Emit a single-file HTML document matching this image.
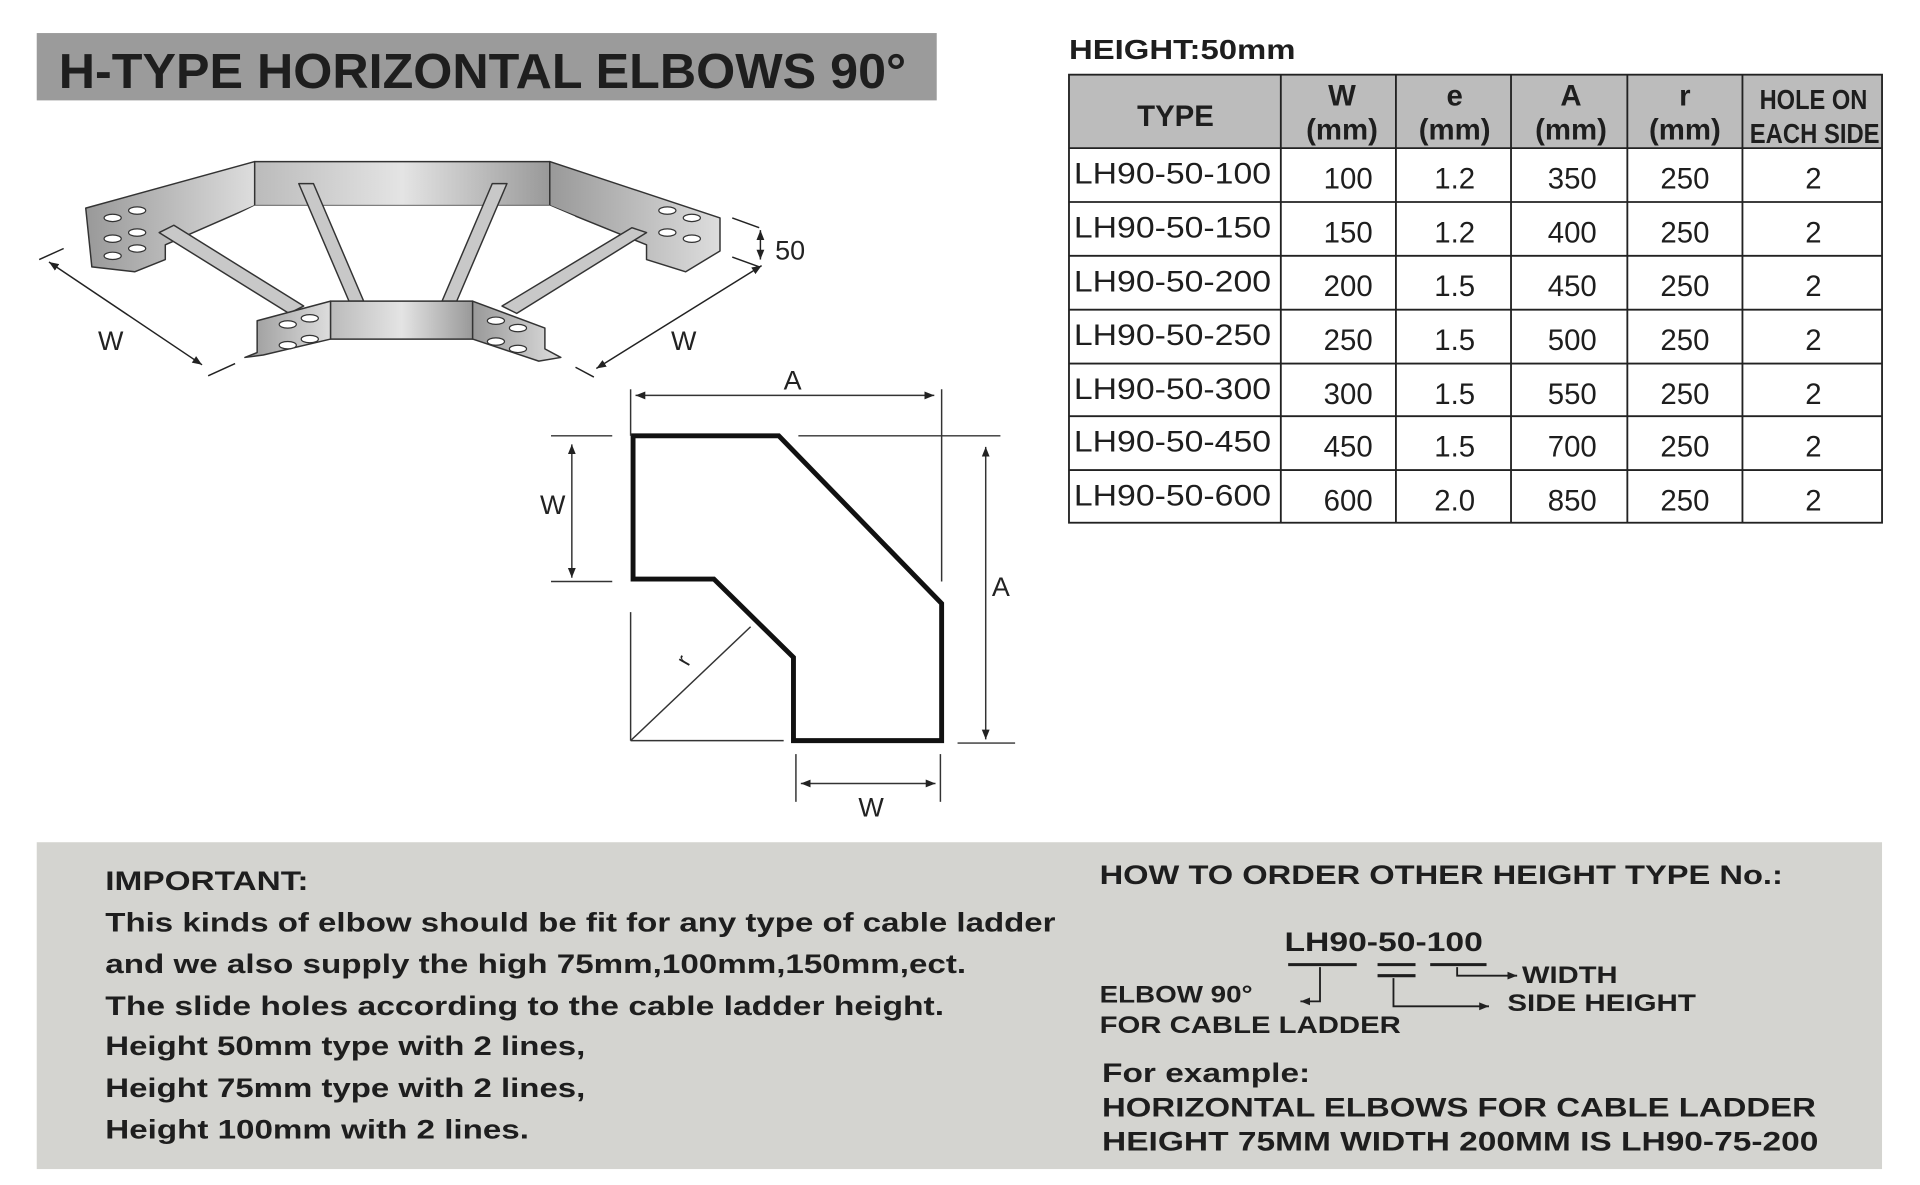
<!DOCTYPE html>
<html><head><meta charset="utf-8"><style>
html,body{margin:0;padding:0;background:#fff;}
svg{display:block;}
text{font-family:"Liberation Sans",sans-serif;}
</style></head><body>
<svg width="1920" height="1185" viewBox="0 0 1568 968" preserveAspectRatio="none" xmlns="http://www.w3.org/2000/svg">
<defs>
<marker id="ar" viewBox="0 0 10 10" refX="10" refY="5" markerWidth="8" markerHeight="8" orient="auto-start-reverse" markerUnits="userSpaceOnUse"><path d="M0,1 L10,5 L0,9 z" fill="#222"/></marker>
<linearGradient id="g1" x1="0" x2="1" y1="0" y2="0"><stop offset="0" stop-color="#bbb"/><stop offset="0.5" stop-color="#e4e4e4"/><stop offset="1" stop-color="#999"/></linearGradient>
<linearGradient id="g2" x1="0" x2="1" y1="0" y2="0"><stop offset="0" stop-color="#999"/><stop offset="1" stop-color="#ddd"/></linearGradient>
</defs>
<rect x="0" y="0" width="1568" height="968" fill="#fff"/>
<!-- title -->
<rect x="30" y="27" width="735" height="55" fill="#9b9b9b"/>
<text x="48" y="72" font-size="40" font-weight="bold" fill="#1e1e1e" textLength="692" lengthAdjust="spacingAndGlyphs">H-TYPE HORIZONTAL ELBOWS 90°</text>

<!-- 3D elbow -->
<g stroke="#333" stroke-width="1.2" stroke-linejoin="round">
<polygon points="70,170 208,132 208,168 135,200 135,212 110,222 75,218" fill="url(#g2)"/>
<polygon points="208,132 449,132 449,168 208,168" fill="url(#g1)"/>
<polygon points="449,132 588,178 588,205 560,222 528,212 528,200 449,168" fill="url(#g2)"/>
<polygon points="208,168 449,168 470,177 410,205 248,205 190,177" fill="#fff" stroke="none"/>
<g fill="#c8c8c8">
<polygon points="130,190 142,184 248,250 236,256"/>
<polygon points="244,150 256,150 297,246 285,246"/>
<polygon points="402,150 414,150 373,246 361,246"/>
<polygon points="516,186 528,190 422,256 410,250"/>
</g>
<polygon points="210,262 270,246 270,277 215,290 200,292 210,288" fill="url(#g2)"/>
<polygon points="270,246 386,246 386,277 270,277" fill="url(#g1)"/>
<polygon points="386,246 445,268 445,285 458,292 440,295 386,277" fill="url(#g2)"/>
</g>
<g fill="#fff" stroke="#333" stroke-width="1">
<ellipse cx="92" cy="178" rx="7" ry="3"/><ellipse cx="112" cy="172" rx="7" ry="3"/>
<ellipse cx="92" cy="195" rx="7" ry="3"/><ellipse cx="112" cy="190" rx="7" ry="3"/>
<ellipse cx="92" cy="209" rx="7" ry="3"/><ellipse cx="112" cy="203" rx="7" ry="3"/>
<ellipse cx="545" cy="172" rx="7" ry="3"/><ellipse cx="565" cy="178" rx="7" ry="3"/>
<ellipse cx="545" cy="190" rx="7" ry="3"/><ellipse cx="565" cy="195" rx="7" ry="3"/>
<ellipse cx="235" cy="265" rx="7" ry="3"/><ellipse cx="253" cy="260" rx="7" ry="3"/>
<ellipse cx="235" cy="282" rx="7" ry="3"/><ellipse cx="253" cy="277" rx="7" ry="3"/>
<ellipse cx="405" cy="262" rx="7" ry="3"/><ellipse cx="423" cy="268" rx="7" ry="3"/>
<ellipse cx="405" cy="279" rx="7" ry="3"/><ellipse cx="423" cy="285" rx="7" ry="3"/>
</g>
<g stroke="#222" stroke-width="1.2" fill="none">
<line x1="32" y1="212" x2="52" y2="203"/><line x1="170" y1="307" x2="192" y2="297"/>
<line x1="40" y1="214" x2="165" y2="298" marker-start="url(#ar)" marker-end="url(#ar)"/>
<line x1="470" y1="300" x2="485" y2="308" />
<line x1="487" y1="301" x2="622" y2="217" marker-start="url(#ar)" marker-end="url(#ar)"/>
<line x1="598" y1="210" x2="620" y2="218"/><line x1="598" y1="178" x2="620" y2="186"/>
<line x1="621" y1="188" x2="621" y2="212" marker-start="url(#ar)" marker-end="url(#ar)"/>
</g>
<text x="80" y="286" font-size="22" fill="#222">W</text>
<text x="548" y="286" font-size="22" fill="#222">W</text>
<text x="633" y="212" font-size="22" fill="#222">50</text>

<!-- plan drawing -->
<polygon points="517,356 636,356 769,493 769,605 648,605 648,537 583,473 517,473" fill="none" stroke="#111" stroke-width="4" stroke-linejoin="miter"/>
<g stroke="#333" stroke-width="1.2" fill="none">
<line x1="515" y1="318" x2="515" y2="356"/><line x1="769" y1="318" x2="769" y2="475"/>
<line x1="519" y1="323" x2="763" y2="323" marker-start="url(#ar)" marker-end="url(#ar)"/>
<line x1="652" y1="356" x2="817" y2="356"/><line x1="782" y1="607" x2="829" y2="607"/>
<line x1="805" y1="365" x2="805" y2="604" marker-start="url(#ar)" marker-end="url(#ar)"/>
<line x1="450" y1="356" x2="500" y2="356"/><line x1="450" y1="475" x2="500" y2="475"/>
<line x1="467" y1="363" x2="467" y2="472" marker-start="url(#ar)" marker-end="url(#ar)"/>
<line x1="650" y1="616" x2="650" y2="655"/><line x1="768" y1="616" x2="768" y2="655"/>
<line x1="654" y1="640" x2="764" y2="640" marker-start="url(#ar)" marker-end="url(#ar)"/>
<line x1="515" y1="500" x2="515" y2="605"/><line x1="515" y1="605" x2="640" y2="605"/>
<line x1="515" y1="605" x2="613" y2="512"/>
</g>
<text x="640" y="318" font-size="22" fill="#222">A</text>
<text x="810" y="487" font-size="22" fill="#222">A</text>
<text x="441" y="420" font-size="22" fill="#222">W</text>
<text x="701" y="667" font-size="22" fill="#222">W</text>
<text x="562" y="545" font-size="18" fill="#222" transform="rotate(-60 562 545)">r</text>

<!-- table -->
<text x="873" y="48" font-size="23" font-weight="bold" fill="#1e1e1e" textLength="185" lengthAdjust="spacingAndGlyphs">HEIGHT:50mm</text>
<rect x="873" y="61" width="664" height="60" fill="#bcbcbc"/>
<g stroke="#222" stroke-width="1.5" fill="none">
<rect x="873" y="61" width="664" height="366"/>
<line x1="873" y1="121" x2="1537" y2="121"/><line x1="873" y1="165" x2="1537" y2="165"/>
<line x1="873" y1="209" x2="1537" y2="209"/><line x1="873" y1="253" x2="1537" y2="253"/>
<line x1="873" y1="297" x2="1537" y2="297"/><line x1="873" y1="340" x2="1537" y2="340"/>
<line x1="873" y1="384" x2="1537" y2="384"/>
<line x1="1046" y1="61" x2="1046" y2="427"/><line x1="1140" y1="61" x2="1140" y2="427"/>
<line x1="1234" y1="61" x2="1234" y2="427"/><line x1="1329" y1="61" x2="1329" y2="427"/>
<line x1="1423" y1="61" x2="1423" y2="427"/>
</g>
<g font-size="24" font-weight="bold" fill="#1e1e1e" text-anchor="middle">
<text x="960" y="103">TYPE</text>
<text x="1096" y="86">W</text><text x="1096" y="114">(mm)</text>
<text x="1188" y="86">e</text><text x="1188" y="114">(mm)</text>
<text x="1283" y="86">A</text><text x="1283" y="114">(mm)</text>
<text x="1376" y="86">r</text><text x="1376" y="114">(mm)</text>
<text x="1481" y="89" font-size="23" textLength="88" lengthAdjust="spacingAndGlyphs">HOLE ON</text>
<text x="1482" y="117" font-size="23" textLength="106" lengthAdjust="spacingAndGlyphs">EACH SIDE</text>
</g>
<g font-size="24" fill="#1e1e1e">
<g text-anchor="start">
<text x="877" y="150" textLength="161" lengthAdjust="spacingAndGlyphs">LH90-50-100</text><text x="877" y="194" textLength="161" lengthAdjust="spacingAndGlyphs">LH90-50-150</text>
<text x="877" y="238" textLength="161" lengthAdjust="spacingAndGlyphs">LH90-50-200</text><text x="877" y="282" textLength="161" lengthAdjust="spacingAndGlyphs">LH90-50-250</text>
<text x="877" y="326" textLength="161" lengthAdjust="spacingAndGlyphs">LH90-50-300</text><text x="877" y="369" textLength="161" lengthAdjust="spacingAndGlyphs">LH90-50-450</text>
<text x="877" y="413" textLength="161" lengthAdjust="spacingAndGlyphs">LH90-50-600</text>
</g>
<g text-anchor="middle">
<text x="1101" y="154">100</text><text x="1188" y="154">1.2</text><text x="1284" y="154">350</text><text x="1376" y="154">250</text><text x="1481" y="154">2</text>
<text x="1101" y="198">150</text><text x="1188" y="198">1.2</text><text x="1284" y="198">400</text><text x="1376" y="198">250</text><text x="1481" y="198">2</text>
<text x="1101" y="242">200</text><text x="1188" y="242">1.5</text><text x="1284" y="242">450</text><text x="1376" y="242">250</text><text x="1481" y="242">2</text>
<text x="1101" y="286">250</text><text x="1188" y="286">1.5</text><text x="1284" y="286">500</text><text x="1376" y="286">250</text><text x="1481" y="286">2</text>
<text x="1101" y="330">300</text><text x="1188" y="330">1.5</text><text x="1284" y="330">550</text><text x="1376" y="330">250</text><text x="1481" y="330">2</text>
<text x="1101" y="373">450</text><text x="1188" y="373">1.5</text><text x="1284" y="373">700</text><text x="1376" y="373">250</text><text x="1481" y="373">2</text>
<text x="1101" y="417">600</text><text x="1188" y="417">2.0</text><text x="1284" y="417">850</text><text x="1376" y="417">250</text><text x="1481" y="417">2</text>
</g>
</g>

<!-- bottom panel -->
<rect x="30" y="688" width="1507" height="267" fill="#d4d4d0"/>
<g font-size="22" font-weight="bold" fill="#1e1e1e">
<text x="86" y="727" textLength="166" lengthAdjust="spacingAndGlyphs">IMPORTANT:</text>
<text x="86" y="761" textLength="776" lengthAdjust="spacingAndGlyphs">This kinds of elbow should be fit for any type of cable ladder</text>
<text x="86" y="795" textLength="703" lengthAdjust="spacingAndGlyphs">and we also supply the high 75mm,100mm,150mm,ect.</text>
<text x="86" y="829" textLength="685" lengthAdjust="spacingAndGlyphs">The slide  holes according to the cable ladder height.</text>
<text x="86" y="862" textLength="392" lengthAdjust="spacingAndGlyphs">Height 50mm type with 2 lines,</text>
<text x="86" y="896" textLength="392" lengthAdjust="spacingAndGlyphs">Height 75mm type with 2 lines,</text>
<text x="86" y="930" textLength="346" lengthAdjust="spacingAndGlyphs">Height 100mm with 2 lines.</text>
<text x="898" y="722" textLength="558" lengthAdjust="spacingAndGlyphs">HOW TO ORDER OTHER HEIGHT TYPE No.:</text>
<text x="1049" y="777" textLength="162" lengthAdjust="spacingAndGlyphs">LH90-50-100</text>
<text x="1243" y="803" font-size="20" textLength="78" lengthAdjust="spacingAndGlyphs">WIDTH</text>
<text x="898" y="819" font-size="20" textLength="125" lengthAdjust="spacingAndGlyphs">ELBOW 90°</text>
<text x="1231" y="826" font-size="20" textLength="154" lengthAdjust="spacingAndGlyphs">SIDE HEIGHT</text>
<text x="898" y="844" font-size="20" textLength="246" lengthAdjust="spacingAndGlyphs">FOR CABLE LADDER</text>
<text x="900" y="884" textLength="170" lengthAdjust="spacingAndGlyphs">For example:</text>
<text x="900" y="912" textLength="583" lengthAdjust="spacingAndGlyphs">HORIZONTAL ELBOWS FOR CABLE LADDER</text>
<text x="900" y="940" textLength="585" lengthAdjust="spacingAndGlyphs">HEIGHT 75MM WIDTH 200MM IS  LH90-75-200</text>
</g>
<g stroke="#1e1e1e" stroke-width="2.5" fill="none">
<line x1="1052" y1="788" x2="1108" y2="788"/>
<line x1="1125" y1="788" x2="1156" y2="788"/><line x1="1125" y1="797" x2="1156" y2="797"/>
<line x1="1168" y1="788" x2="1214" y2="788"/>
</g>
<g stroke="#1e1e1e" stroke-width="1.5" fill="none">
<polyline points="1078,790 1078,818 1062,818" marker-end="url(#ar)"/>
<polyline points="1138,799 1138,822 1216,822" marker-end="url(#ar)"/>
<polyline points="1190,790 1190,797 1239,797" marker-end="url(#ar)"/>
</g>
</svg>
</body></html>
